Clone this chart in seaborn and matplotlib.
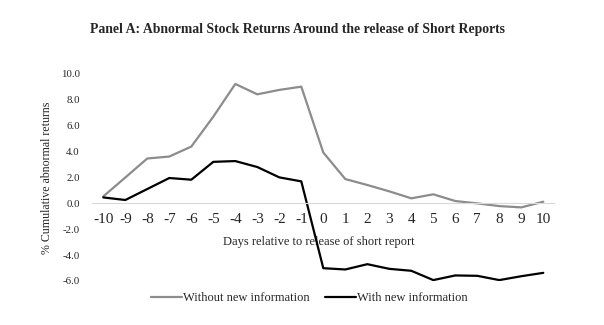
import matplotlib
matplotlib.use("Agg")
import matplotlib.pyplot as plt
import seaborn as sns
import pandas as pd

days = list(range(-10, 11))
without_info = [0.54, 2.0, 3.47, 3.62, 4.39, 6.7, 9.23, 8.43, 8.77, 9.02,
                3.93, 1.88, 1.42, 0.93, 0.39, 0.70, 0.18, 0.0, -0.21, -0.31, 0.13]
with_info = [0.46, 0.26, 1.11, 1.96, 1.83, 3.21, 3.27, 2.81, 2.01, 1.70,
             -5.01, -5.11, -4.70, -5.06, -5.21, -5.93, -5.57, -5.60, -5.93, -5.63, -5.37]
series_names = ["Without new information", "With new information"]
yticks = [-6, -4, -2, 0, 2, 4, 6, 8, 10]

df = pd.DataFrame({
    "day": days * 2,
    "car": without_info + with_info,
    "series": [series_names[0]] * len(days) + [series_names[1]] * len(days),
})

sns.set_theme(style="white")
plt.rcParams["font.family"] = ["Liberation Serif", "DejaVu Serif"]

fig = plt.figure(figsize=(6.04, 3.25), dpi=100)
ax = fig.add_axes([92.3 / 604, 44 / 325, 462 / 604, 207 / 325])

sns.lineplot(data=df, x="day", y="car", hue="series",
             palette={series_names[0]: "#8c8c8c", series_names[1]: "#000000"},
             linewidth=1.6, ax=ax, legend=True)

ax.set_xlim(-10.5, 10.5)
ax.set_ylim(-6, 10)
ax.set_xticks(days)
ax.set_xticklabels([str(d) for d in days], fontsize=7.5)
ax.set_yticks(yticks)
ax.set_yticklabels([f"{v:.1f}" for v in yticks], fontsize=7.8)

for s in ["left", "right", "top"]:
    ax.spines[s].set_visible(False)
ax.spines["bottom"].set_position(("data", 0))
ax.spines["bottom"].set_color("#d9d9d9")
ax.spines["bottom"].set_linewidth(0.8)
ax.tick_params(axis="x", length=0, pad=7)
ax.tick_params(axis="y", length=0, pad=9)

ax.set_xlabel("Days relative to release of short report", fontsize=9)
ax.xaxis.set_label_coords(0.49, 0.215)
ax.set_ylabel("% Cumulative abnormal returns", fontsize=8.6)
ax.yaxis.set_label_coords(-0.085, 0.5)

leg = ax.legend(loc="upper center", bbox_to_anchor=(0.47, 0.0), ncol=2,
                frameon=False, fontsize=9, handlelength=2.5, handletextpad=0.1,
                columnspacing=1.2)

fig.text(0.493, 1 - 29 / 325, "Panel A: Abnormal Stock Returns Around the release of Short Reports",
         ha="center", va="center", fontsize=9.9, fontweight="bold")

fig.savefig("out.png", dpi=100)
